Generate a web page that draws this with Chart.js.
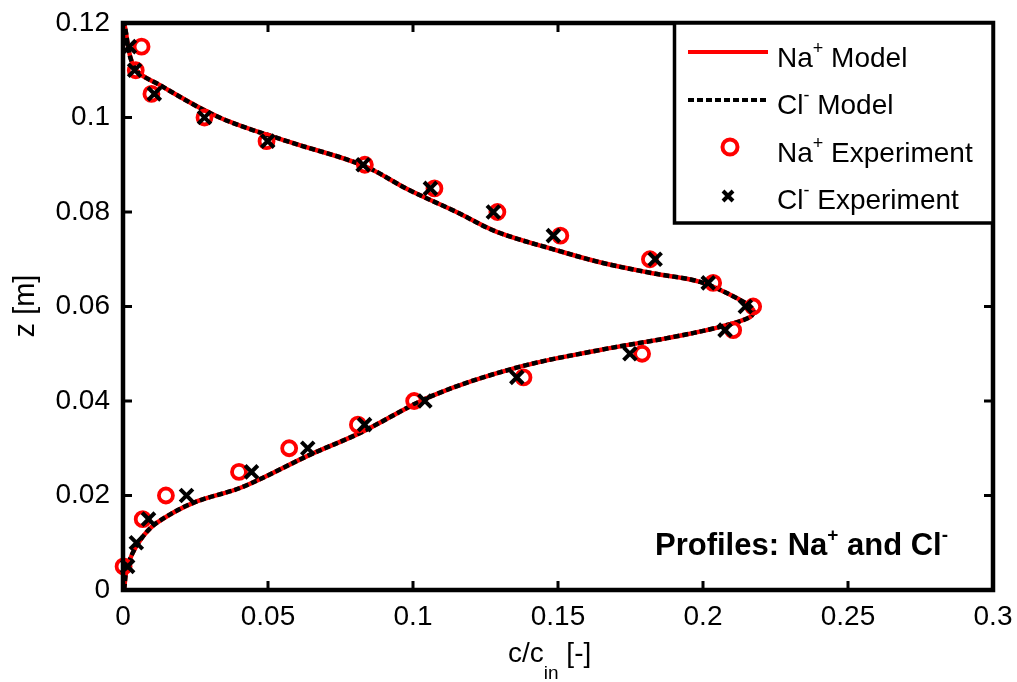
<!DOCTYPE html>
<html lang="en">
<head>
<meta charset="UTF-8">
<title>Profiles: Na+ and Cl-</title>
<script src="https://cdn.jsdelivr.net/npm/chart.js"></script>
<style>
  html, body { margin: 0; padding: 0; background: #fff; }
  #wrap { width: 1017px; height: 682px; }
</style>
</head>
<body>
<div id="wrap"><canvas id="profileChart" width="1017" height="682"></canvas></div>
<script>
// model profiles, c/c_in against height z
const modelZ   = [0.0, 0.0042, 0.0078, 0.0112, 0.0142, 0.0184, 0.0218, 0.0286, 0.0332, 0.0412, 0.0471, 0.0508, 0.0533, 0.0557, 0.0578, 0.0593, 0.0614, 0.0652, 0.0670, 0.0692, 0.0720, 0.0758, 0.0800, 0.0847, 0.0899, 0.0950, 0.1000, 0.1069, 0.1105, 0.1196];
const naModelC = [0.0004, 0.0012, 0.0033, 0.0067, 0.0116, 0.0240, 0.0412, 0.0644, 0.0816, 0.1070, 0.1360, 0.1645, 0.1876, 0.2059, 0.2163, 0.2173, 0.2128, 0.1990, 0.1830, 0.1655, 0.1490, 0.1289, 0.1150, 0.0985, 0.0826, 0.0565, 0.0333, 0.0126, 0.0040, 0.0005];
const clModelC = [0.0004, 0.0012, 0.0033, 0.0067, 0.0116, 0.0240, 0.0412, 0.0644, 0.0816, 0.1070, 0.1360, 0.1645, 0.1876, 0.2059, 0.2163, 0.2173, 0.2128, 0.1990, 0.1830, 0.1655, 0.1490, 0.1289, 0.1150, 0.0985, 0.0826, 0.0565, 0.0333, 0.0126, 0.0040, 0.0005];

// measured points
const naExpZ = [0.115, 0.11, 0.105, 0.1, 0.095, 0.09, 0.085, 0.08, 0.075, 0.07, 0.065, 0.06, 0.055, 0.05, 0.045, 0.04, 0.035, 0.03, 0.025, 0.02, 0.015, 0.005];
const naExpC = [0.0064, 0.0044, 0.0098, 0.0281, 0.0495, 0.0834, 0.1074, 0.1291, 0.1508, 0.1817, 0.2035, 0.2173, 0.2104, 0.1790, 0.1381, 0.1004, 0.0810, 0.0573, 0.0400, 0.0148, 0.0068, 0.0002];
const clExpZ = [0.115, 0.11, 0.105, 0.1, 0.095, 0.09, 0.085, 0.08, 0.075, 0.07, 0.065, 0.06, 0.055, 0.05, 0.045, 0.04, 0.035, 0.03, 0.025, 0.02, 0.015, 0.01, 0.005];
const clExpC = [0.0022, 0.0040, 0.0108, 0.0281, 0.0499, 0.0828, 0.1060, 0.1277, 0.1484, 0.1835, 0.2018, 0.2146, 0.2076, 0.1748, 0.1358, 0.1041, 0.0833, 0.0637, 0.0443, 0.0219, 0.0088, 0.0046, 0.0016];

const xTickValues = [0, 0.05, 0.1, 0.15, 0.2, 0.25, 0.3];
const xTickLabels = ['0', '0.05', '0.1', '0.15', '0.2', '0.25', '0.3'];
const yTickValues = [0, 0.02, 0.04, 0.06, 0.08, 0.1, 0.12];
const yTickLabels = ['0', '0.02', '0.04', '0.06', '0.08', '0.1', '0.12'];

const FONT = '"Liberation Sans", Arial, sans-serif';

function pairs(cs, zs) {
    return cs.map((c, i) => ({ x: c, y: zs[i] }));
}

// draws a run of text pieces: [text, size, bold, dy]
function richText(ctx, parts, x, y) {
    parts.forEach(([t, size, bold, dy]) => {
        ctx.font = (bold ? 'bold ' : '') + size + 'px ' + FONT;
        ctx.fillText(t, x, y + dy);
        x += ctx.measureText(t).width;
    });
}

// fixed axis sizes so the plot box lands where we want it
function fixScale(size) {
    return s => {
        if (s.isHorizontal()) s.height = size; else s.width = size;
        s.paddingTop = 0; s.paddingBottom = 0;
        s.paddingLeft = 0; s.paddingRight = 0;
    };
}

// box, inward ticks, legend, labels
const decorations = {
    id: 'decorations',
    afterDraw(chart) {
        const { ctx, chartArea: a, scales: { x, y } } = chart;
        ctx.save();
        ctx.strokeStyle = '#000';
        ctx.fillStyle = '#000';

        ctx.lineWidth = 3;
        ctx.beginPath();
        xTickValues.forEach(v => {
            const px = x.getPixelForValue(v);
            ctx.moveTo(px, a.bottom); ctx.lineTo(px, a.bottom - 9);
            ctx.moveTo(px, a.top); ctx.lineTo(px, a.top + 9);
        });
        yTickValues.forEach(v => {
            const py = y.getPixelForValue(v);
            ctx.moveTo(a.left, py); ctx.lineTo(a.left + 9, py);
            ctx.moveTo(a.right, py); ctx.lineTo(a.right - 9, py);
        });
        ctx.stroke();

        ctx.lineWidth = 4.5;
        ctx.strokeRect(a.left, a.top, a.right - a.left, a.bottom - a.top);

        // legend
        const lx = 674.5, ly = a.top, lw = a.right - lx, lh = 200;
        ctx.fillStyle = '#fff';
        ctx.fillRect(lx, ly, lw, lh);
        ctx.lineWidth = 3.5;
        ctx.strokeRect(lx, ly, lw, lh);

        ctx.lineWidth = 4;
        ctx.strokeStyle = '#ff0000';
        ctx.beginPath(); ctx.moveTo(688, 52); ctx.lineTo(768, 52); ctx.stroke();
        ctx.strokeStyle = '#000';
        ctx.setLineDash([6, 3]);
        ctx.beginPath(); ctx.moveTo(688, 100); ctx.lineTo(768, 100); ctx.stroke();
        ctx.setLineDash([]);

        ctx.strokeStyle = '#ff0000';
        ctx.lineWidth = 4;
        ctx.beginPath(); ctx.arc(730, 147, 7.5, 0, Math.PI * 2); ctx.stroke();
        ctx.strokeStyle = '#000';
        ctx.lineWidth = 4;
        ctx.beginPath();
        ctx.moveTo(723, 191); ctx.lineTo(733, 201);
        ctx.moveTo(733, 191); ctx.lineTo(723, 201);
        ctx.stroke();

        ctx.fillStyle = '#000';
        ctx.textAlign = 'left';
        ctx.textBaseline = 'alphabetic';
        richText(ctx, [['Na', 28, false, 0], ['+', 18, false, -13], [' Model', 28, false, 0]], 777, 67);
        richText(ctx, [['Cl', 28, false, 0], ['-', 18, false, -13], [' Model', 28, false, 0]], 777, 114);
        richText(ctx, [['Na', 28, false, 0], ['+', 18, false, -13], [' Experiment', 28, false, 0]], 777, 162);
        richText(ctx, [['Cl', 28, false, 0], ['-', 18, false, -13], [' Experiment', 28, false, 0]], 777, 209);

        // annotation
        richText(ctx, [['Profiles: Na', 31, true, 0], ['+', 19, true, -14], [' and Cl', 31, true, 0], ['-', 19, true, -14]], 655, 555);

        // axis titles
        richText(ctx, [['c/c', 28, false, 0], ['in', 19, false, 17], [' [-]', 28, false, 0]], 508, 662);
        ctx.save();
        ctx.translate(34, 306);
        ctx.rotate(-Math.PI / 2);
        ctx.textAlign = 'center';
        ctx.font = '29px ' + FONT;
        ctx.fillText('z [m]', 0, 0);
        ctx.restore();

        ctx.restore();
    }
};

new Chart(document.getElementById('profileChart'), {
    type: 'scatter',
    data: {
        datasets: [
            {
                label: 'Na+ Model',
                data: pairs(naModelC, modelZ),
                showLine: true,
                borderColor: '#ff0000',
                borderWidth: 4.5,
                pointRadius: 0,
                tension: 0.35,
                order: 4
            },
            {
                label: 'Cl- Model',
                data: pairs(clModelC, modelZ),
                showLine: true,
                borderColor: '#000000',
                borderWidth: 4.5,
                borderDash: [6, 3],
                pointRadius: 0,
                tension: 0.35,
                order: 3
            },
            {
                label: 'Na+ Experiment',
                data: pairs(naExpC, naExpZ),
                pointStyle: 'circle',
                pointRadius: 7,
                pointBorderWidth: 3.8,
                pointBorderColor: '#ff0000',
                pointBackgroundColor: 'rgba(0,0,0,0)',
                clip: false,
                order: 2
            },
            {
                label: 'Cl- Experiment',
                data: pairs(clExpC, clExpZ),
                pointStyle: 'crossRot',
                pointRadius: 9,
                pointBorderWidth: 4,
                pointBorderColor: '#000000',
                clip: false,
                order: 1
            }
        ]
    },
    options: {
        responsive: false,
        animation: false,
        devicePixelRatio: 1,
        layout: { padding: { left: 0, top: 23, right: 24, bottom: 0 } },
        plugins: {
            legend: { display: false },
            tooltip: { enabled: false }
        },
        scales: {
            x: {
                type: 'linear',
                min: 0,
                max: 0.3,
                grid: { display: false, drawTicks: false },
                border: { display: false },
                afterBuildTicks: s => { s.ticks = xTickValues.map(v => ({ value: v })); },
                afterFit: fixScale(92),
                ticks: {
                    padding: 10,
                    color: '#000',
                    font: { family: FONT, size: 28 },
                    maxRotation: 0,
                    callback: (v, i) => xTickLabels[i]
                }
            },
            y: {
                type: 'linear',
                min: 0,
                max: 0.12,
                grid: { display: false, drawTicks: false },
                border: { display: false },
                afterBuildTicks: s => { s.ticks = yTickValues.map(v => ({ value: v })); },
                afterFit: fixScale(123),
                ticks: {
                    padding: 13,
                    color: '#000',
                    font: { family: FONT, size: 28 },
                    callback: (v, i) => yTickLabels[i]
                }
            }
        }
    },
    plugins: [decorations]
});
</script>
</body>
</html>
